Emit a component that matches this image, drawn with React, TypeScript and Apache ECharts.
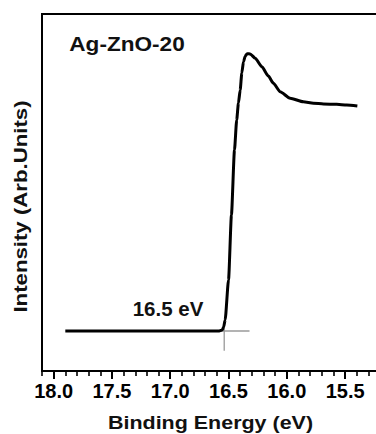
import React, { useEffect, useRef } from "react";
import * as echarts from "echarts";

// Binding energy (eV) and intensity (arb. units)
const energy = [
  17.9, 17.6, 17.257, 16.9, 16.58, 16.554, 16.542, 16.529, 16.5, 16.475, 16.449, 16.43,
  16.415, 16.4, 16.386, 16.372, 16.357, 16.34, 16.314, 16.271, 16.214, 16.158,
  16.115, 16.057, 15.972, 15.858, 15.772, 15.686, 15.572, 15.486, 15.395,
];
const intensity = [
  11.2, 11.2, 11.2, 11.2, 11.2, 11.5, 12.3, 14.3, 25.5, 43.7, 61.9, 70.3,
  75.1, 78.7, 83.5, 86.6, 88.2, 88.9, 88.8, 87.6, 85.2, 82.6,
  80.6, 78.2, 76.4, 75.4, 75.0, 74.8, 74.7, 74.5, 74.2,
];

// onset guide lines (data coordinates)
const hGuideX = [16.62, 16.32];
const hGuideY = [11.2, 11.2];
const vGuideX = [16.537, 16.537];
const vGuideY = [5.7, 14];

const xTickLabels = [18.0, 17.5, 17.0, 16.5, 16.0, 15.5];
const xMin = 15.0;
const xMax = 18.1;
const xMinorStep = 0.1;
const sampleLabel = "Ag-ZnO-20";
const onsetLabel = "16.5 eV";
const xTitle = "Binding Energy (eV)";
const yTitle = "Intensity (Arb.Units)";

const FONT = "Liberation Sans";

export default function App() {
  const ref = useRef<HTMLDivElement>(null);
  useEffect(() => {
    if (!ref.current) return;
    const chart = echarts.init(ref.current, undefined, { renderer: "svg" });
    const zip = (xs: number[], ys: number[]) => xs.map((x, i) => [x, ys[i]]);
    const option: any = {
      animation: false,
      backgroundColor: "#fff",
      grid: {
        left: 42,
        top: 14,
        bottom: 63,
        right: -27.4,
        show: true,
        borderColor: "#000",
        borderWidth: 2,
        outerBoundsMode: "none",
        containLabel: false,
      },
      xAxis: [
        {
          type: "value",
          inverse: true,
          min: xMin,
          max: xMax,
          position: "bottom",
          axisLine: { show: true, lineStyle: { color: "#000", width: 2 } },
          axisTick: {
            show: true,
            length: 8,
            lineStyle: { color: "#000", width: 2 },
            customValues: xTickLabels,
          },
          axisLabel: {
            show: true,
            customValues: xTickLabels,
            formatter: (v: number) => v.toFixed(1),
            color: "#000",
            fontFamily: FONT,
            fontWeight: "bold",
            fontSize: 20,
            margin: 10,
          },
          splitLine: { show: false },
        },
        {
          type: "value",
          inverse: true,
          min: xMin,
          max: xMax,
          interval: xMinorStep,
          position: "bottom",
          offset: 0,
          axisLine: { show: false },
          axisTick: { show: true, length: 5, lineStyle: { color: "#000", width: 1.6 } },
          axisLabel: { show: false },
          splitLine: { show: false },
        },
      ],
      yAxis: {
        type: "value",
        min: 0,
        max: 100,
        axisLine: { show: true, lineStyle: { color: "#000", width: 2 } },
        axisTick: { show: false },
        axisLabel: { show: false },
        splitLine: { show: false },
      },
      series: [
        {
          type: "line",
          data: zip(hGuideX, hGuideY),
          symbol: "none",
          lineStyle: { color: "#9a9a9a", width: 1.3 },
          z: 1,
        },
        {
          type: "line",
          data: zip(vGuideX, vGuideY),
          symbol: "none",
          lineStyle: { color: "#9a9a9a", width: 1.3 },
          z: 1,
        },
        {
          type: "line",
          data: zip(energy, intensity),
          symbol: "none",
          smooth: 0.2,
          smoothMonotone: "x",
          lineStyle: { color: "#000", width: 3 },
          z: 3,
        },
      ],
      graphic: [
        {
          type: "text",
          x: 69.3,
          y: 44,
          scaleX: 1.13,
          style: {
            text: sampleLabel,
            fill: "#111",
            font: `bold 20px ${FONT}`,
            align: "left",
            verticalAlign: "middle",
          },
        },
        {
          type: "text",
          x: 132.7,
          y: 308,
          style: {
            text: onsetLabel,
            fill: "#111",
            font: `bold 20.5px ${FONT}`,
            align: "left",
            verticalAlign: "middle",
          },
        },
        {
          type: "text",
          x: 210.5,
          y: 422.5,
          scaleX: 1.13,
          style: {
            text: xTitle,
            fill: "#111",
            font: `bold 19px ${FONT}`,
            align: "center",
            verticalAlign: "middle",
          },
        },
        {
          type: "text",
          x: 20,
          y: 206.5,
          rotation: Math.PI / 2,
          scaleX: 1.17,
          style: {
            text: yTitle,
            fill: "#111",
            font: `bold 19px ${FONT}`,
            align: "center",
            verticalAlign: "middle",
          },
        },
      ],
    };
    chart.setOption(option);
    return () => chart.dispose();
  }, []);
  return (
    <div
      ref={ref}
      style={{ position: "fixed", left: 0, top: 0, width: 376, height: 434 }}
    />
  );
}
